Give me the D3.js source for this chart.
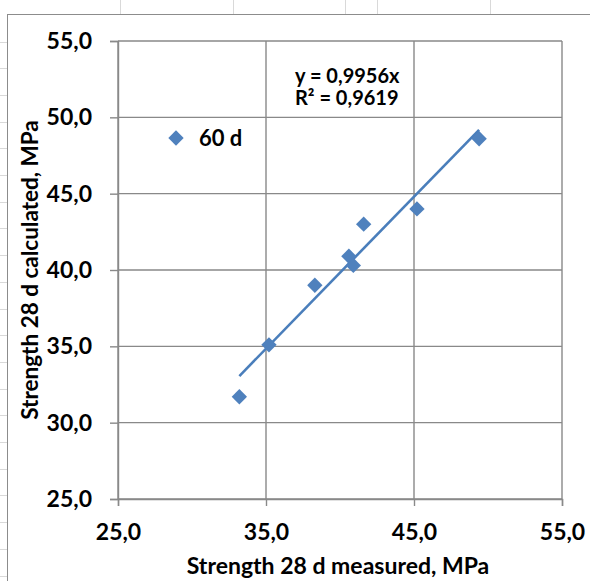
<!DOCTYPE html>
<html>
<head>
<meta charset="utf-8">
<script src="https://cdn.jsdelivr.net/npm/d3@7"></script>
<style>
  html, body { margin: 0; padding: 0; background: #fff; }
  svg { display: block; font-family: Lato, "Open Sans", sans-serif; font-weight: bold; }
</style>
</head>
<body>
<script>
const width = 590;
const height = 581;

// measured vs calculated 28 d strength (MPa), series "60 d"
var measured   = [33.2, 35.2, 38.3, 40.6, 40.9, 41.6, 45.2, 49.4];
var calculated = [31.7, 35.1, 39.0, 40.9, 40.3, 43.0, 44.0, 48.6];
var slope = 0.9956;
var xTicks = [25, 35, 45, 55];
var yTicks = [25, 30, 35, 40, 45, 50, 55];
var seriesName = "60 d";
var eqLines = ["y = 0,9956x", "R\u00b2 = 0,9619"];

var locale = d3.formatLocale({decimal: ",", thousands: " ", grouping: [3], currency: ["", ""]});
var fmt = locale.format(".1f");

var svg = d3.select("body")
 .append("svg")
 .attr("width", width)
 .attr("height", height);

//Excel cell grid behind the chart

var cells = svg.append("g").attr("stroke", "#d9d9d9").attr("stroke-width", 1);
[120, 233, 345, 377, 490].forEach(function(x) {
  cells.append("line").attr("x1", x + 0.5).attr("x2", x + 0.5).attr("y1", 0).attr("y2", 14);
});
d3.range(41.5, height, 26.7).forEach(function(y) {
  cells.append("line").attr("x1", 0).attr("x2", 7).attr("y1", Math.round(y) + 0.5).attr("y2", Math.round(y) + 0.5);
});

//Chart area

svg.append("rect")
 .attr("x", 7.5).attr("y", 14.5)
 .attr("width", width).attr("height", height)
 .attr("fill", "#fff")
 .attr("stroke", "#8c8c8c")
 .attr("stroke-width", 1);

var plot = {left: 118, right: 562, top: 41, bottom: 499};

var xscale = d3.scaleLinear()
 .domain([25, 55])
 .range([plot.left, plot.right]);

var yscale = d3.scaleLinear()
 .domain([25, 55])
 .range([plot.bottom, plot.top]);

//Gridlines

var grid = svg.append("g").attr("stroke", "#898989").attr("stroke-width", 1.4);
xTicks.forEach(function(t) {
  grid.append("line")
   .attr("x1", xscale(t)).attr("x2", xscale(t))
   .attr("y1", plot.top).attr("y2", plot.bottom);
});
yTicks.forEach(function(t) {
  grid.append("line")
   .attr("x1", plot.left).attr("x2", plot.right)
   .attr("y1", yscale(t)).attr("y2", yscale(t));
});

//Axes

var x_axis = d3.axisBottom(xscale)
 .tickValues(xTicks)
 .tickFormat(fmt)
 .tickSize(7)
 .tickPadding(18);

var y_axis = d3.axisLeft(yscale)
 .tickValues(yTicks)
 .tickFormat(fmt)
 .tickSize(8)
 .tickPadding(18);

function styleAxis(g) {
  g.select(".domain").attr("stroke", "#898989").attr("stroke-width", 1.4);
  g.selectAll(".tick line").attr("stroke", "#898989").attr("stroke-width", 1.4);
  g.selectAll(".tick text")
   .attr("fill", "#000")
   .style("font-size", "23px")
   .style("font-family", "Lato, 'Open Sans', sans-serif")
   .style("font-weight", "bold");
}

svg.append("g")
 .attr("transform", "translate(0," + plot.bottom + ")")
 .call(x_axis)
 .call(styleAxis);

svg.append("g")
 .attr("transform", "translate(" + plot.left + ",0)")
 .call(y_axis)
 .call(styleAxis);

//Axis titles

svg.append("text")
 .attr("x", 338)
 .attr("y", 574)
 .attr("text-anchor", "middle")
 .style("font-size", "23px")
 .text("Strength 28 d measured, MPa");

svg.append("text")
 .attr("transform", "translate(38," + (plot.top + plot.bottom) / 2 + ") rotate(-90)")
 .attr("text-anchor", "middle")
 .style("font-size", "22.5px")
 .text("Strength 28 d calculated, MPa");

//Trendline through origin

var xmin = d3.min(measured), xmax = d3.max(measured);
svg.append("line")
 .attr("x1", xscale(xmin)).attr("y1", yscale(slope * xmin))
 .attr("x2", xscale(xmax)).attr("y2", yscale(slope * xmax))
 .attr("stroke", "#4a7ebb")
 .attr("stroke-width", 2.6);

//Points

var diamond = d3.symbol().type(d3.symbolDiamond2).size(150);
svg.append("g")
 .selectAll("path")
 .data(measured)
 .join("path")
 .attr("d", diamond)
 .attr("transform", function(d, i) { return "translate(" + xscale(d) + "," + yscale(calculated[i]) + ")"; })
 .attr("fill", "#4f81bd");

//Equation label

svg.append("g")
 .selectAll("text")
 .data(eqLines)
 .join("text")
 .attr("x", 295)
 .attr("y", function(d, i) { return 83 + i * 22; })
 .style("font-size", "20px")
 .text(function(d) { return d; });

//Legend

svg.append("path")
 .attr("d", diamond)
 .attr("transform", "translate(176,138)")
 .attr("fill", "#4f81bd");

svg.append("text")
 .attr("x", 199)
 .attr("y", 146)
 .style("font-size", "22px")
 .text(seriesName);
</script>
</body>
</html>
